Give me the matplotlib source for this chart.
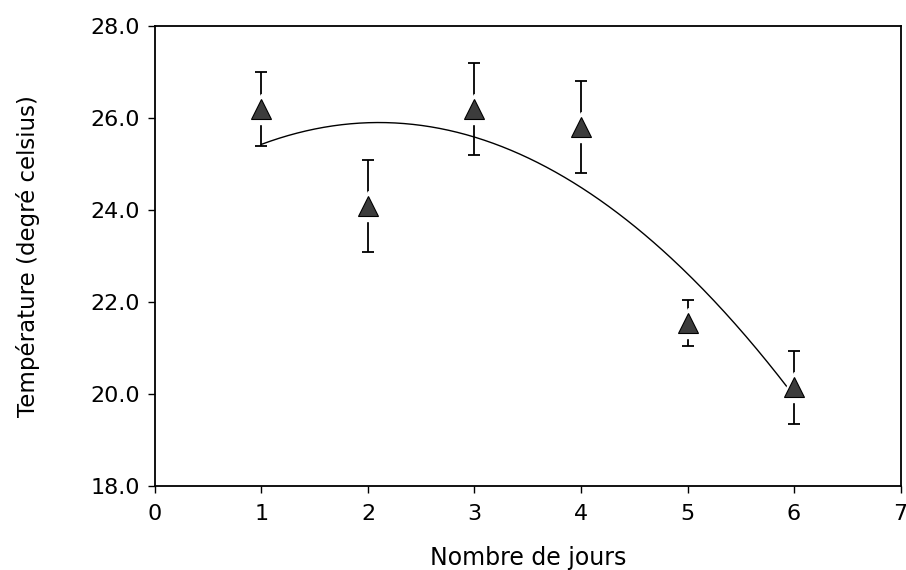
import numpy as np
import matplotlib
matplotlib.use("Agg")
import matplotlib.pyplot as plt

# Data
days = [1, 2, 3, 4, 5, 6]
temp_mean = [26.2, 24.1, 26.2, 25.8, 21.55, 20.15]
temp_err = [0.8, 1.0, 1.0, 1.0, 0.5, 0.8]
x_ticks = [0, 1, 2, 3, 4, 5, 6, 7]
y_ticks = [18.0, 20.0, 22.0, 24.0, 26.0, 28.0]

plt.rcParams['font.family'] = ['DejaVu Sans']

fig = plt.figure(figsize=(9.06, 5.70), dpi=100)
ax = fig.add_axes([0.171, 0.147, 0.823, 0.807])

# quadratic fit curve through the means
coef = np.polyfit(days, temp_mean, 2)
xf = np.linspace(min(days), max(days), 300)
ax.plot(xf, np.polyval(coef, xf), color='black', lw=1.0, zorder=2)

ax.errorbar(days, temp_mean, yerr=temp_err, fmt='none', ecolor='black',
            elinewidth=1.3, capsize=4, capthick=1.3, zorder=3)
# white halo to create the gap between error bar and marker
ax.plot(days, temp_mean, linestyle='none', marker='^', ms=21,
        mfc='white', mec='white', zorder=4)
ax.plot(days, temp_mean, linestyle='none', marker='^', ms=14,
        mfc='#3c3c3c', mec='black', mew=0.8, zorder=5)

ax.set_xlim(0, 7)
ax.set_ylim(18, 28)
ax.set_xticks(x_ticks)
ax.set_xticklabels([str(v) for v in x_ticks])
ax.set_yticks(y_ticks)
ax.set_yticklabels([f"{v:.1f}" for v in y_ticks])

ax.tick_params(axis='both', direction='out', length=5, width=1.0,
               labelsize=16, colors='black')
ax.tick_params(axis='x', pad=8)
ax.tick_params(axis='y', pad=6)
for s in ax.spines.values():
    s.set_linewidth(1.3)
    s.set_color('black')

ax.set_xlabel("Nombre de jours", fontsize=17, labelpad=16)
ax.set_ylabel("Température (degré celsius)", fontsize=16.5, labelpad=36)

fig.savefig("out.png", dpi=100)
